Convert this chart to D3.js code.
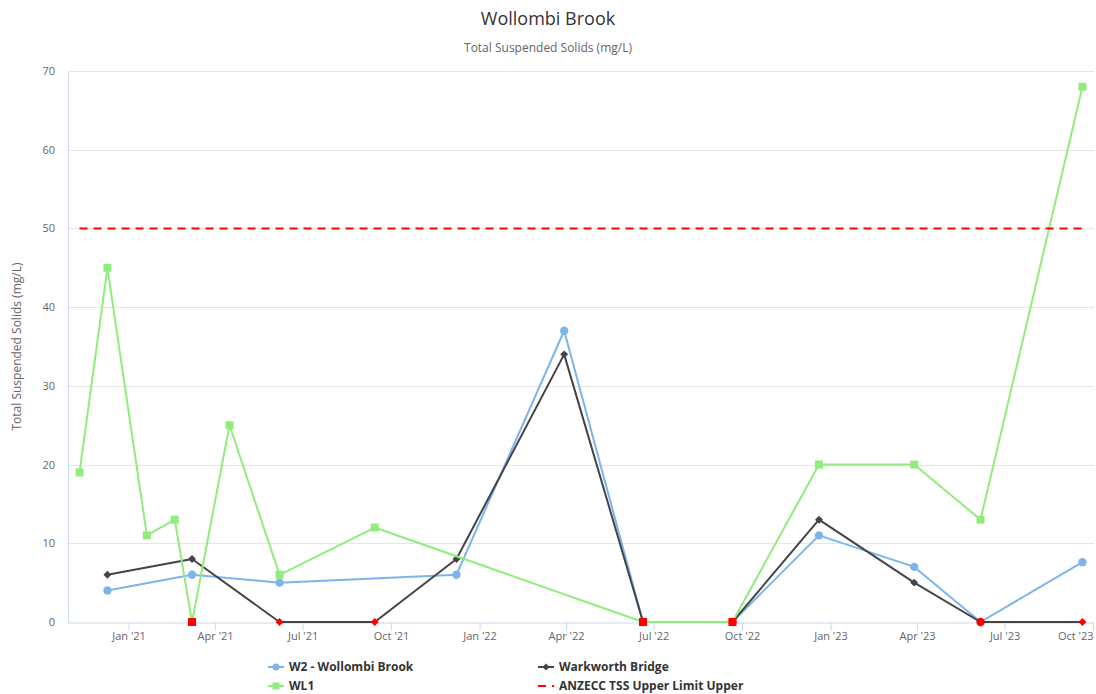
<!DOCTYPE html>
<html>
<head>
<meta charset="utf-8">
<script src="https://cdn.jsdelivr.net/npm/d3@7"></script>
<style>
  html, body { margin: 0; padding: 0; background: #fff; }
  svg { display: block; font-family: "Open Sans", "DejaVu Sans", sans-serif; }
</style>
</head>
<body>
<svg id="chart" width="1096" height="694"></svg>
<script>
// ---------- data ----------
const chartTitle = "Wollombi Brook";
const chartSubtitle = "Total Suspended Solids (mg/L)";
const yAxisTitle = "Total Suspended Solids (mg/L)";

const w2Dates = ["2020-12-10","2021-03-08","2021-06-07","2021-12-08","2022-03-30","2022-06-20","2022-09-21","2022-12-20","2023-03-29","2023-06-06","2023-09-20"];
const w2Values = [4, 6, 5, 6, 37, 0, 0, 11, 7, 0, 7.6];

const warkDates = ["2020-12-10","2021-03-08","2021-06-07","2021-09-14","2021-12-08","2022-03-30","2022-06-20","2022-09-21","2022-12-20","2023-03-29","2023-06-06","2023-09-20"];
const warkValues = [6, 8, 0, 0, 8, 34, 0, 0, 13, 5, 0, 0];

const wl1Dates = ["2020-11-11","2020-12-10","2021-01-20","2021-02-18","2021-03-08","2021-04-16","2021-06-07","2021-09-14","2022-06-20","2022-09-21","2022-12-20","2023-03-29","2023-06-06","2023-09-20"];
const wl1Values = [19, 45, 11, 13, 0, 25, 6, 12, 0, 0, 20, 20, 13, 68];

const anzeccDates = ["2020-11-11","2023-09-20"];
const anzeccValues = [50, 50];

const xTickDates = ["2021-01-01","2021-04-01","2021-07-01","2021-10-01","2022-01-01","2022-04-01","2022-07-01","2022-10-01","2023-01-01","2023-04-01","2023-07-01","2023-10-01"];
const yTicks = [0, 10, 20, 30, 40, 50, 60, 70];
const xDomain = ["2020-10-30","2023-10-02"];
const yDomain = [0, 70];

const seriesNames = ["W2 - Wollombi Brook", "Warkworth Bridge", "WL1", "ANZECC TSS Upper Limit Upper"];

// ---------- layout ----------
const parse = d3.utcParse("%Y-%m-%d");
const plot = { left: 68, right: 1094, top: 71, bottom: 622 };
const svg = d3.select("#chart");

const x = d3.scaleUtc().domain(xDomain.map(parse)).range([plot.left, plot.right]);
const y = d3.scaleLinear().domain(yDomain).range([plot.bottom, plot.top]);

const zip = (ds, vs) => ds.map((d, i) => ({ date: parse(d), value: vs[i] }));

// title
svg.append("text").attr("x", 548).attr("y", 25).attr("text-anchor", "middle")
  .attr("font-size", 18).attr("fill", "#333333").text(chartTitle);
svg.append("text").attr("x", 548).attr("y", 52).attr("text-anchor", "middle")
  .attr("font-size", 12).attr("fill", "#666666").text(chartSubtitle);

// grid
const gGrid = svg.append("g");
gGrid.selectAll("line").data(yTicks.filter(t => t > 0)).join("line")
  .attr("x1", plot.left).attr("x2", plot.right)
  .attr("y1", d => Math.round(y(d)) + 0.5).attr("y2", d => Math.round(y(d)) + 0.5)
  .attr("stroke", "#e6e6e6").attr("stroke-width", 1);

// y axis
const yAxis = d3.axisLeft(y).tickValues(yTicks).tickSize(0).tickPadding(13);
const gy = svg.append("g").attr("transform", `translate(${plot.left},0)`).call(yAxis);
gy.select(".domain").attr("stroke", "#ccd6eb");
gy.selectAll("text").attr("font-size", 11).attr("fill", "#666666")
  .attr("font-family", "'Open Sans', 'DejaVu Sans', sans-serif");

svg.append("text")
  .attr("transform", `translate(21,${(plot.top + plot.bottom) / 2}) rotate(-90)`)
  .attr("text-anchor", "middle").attr("font-size", 12).attr("fill", "#666666")
  .text(yAxisTitle);

// x axis
const fmt = d3.utcFormat("%b '%y");
const xAxis = d3.axisBottom(x).tickValues(xTickDates.map(parse)).tickFormat(fmt)
  .tickSize(8).tickSizeOuter(0).tickPadding(2);
const gx = svg.append("g").attr("transform", `translate(0,${plot.bottom + 0.5})`).call(xAxis);
gx.select(".domain").attr("stroke", "#ccd6eb");
gx.selectAll(".tick line").attr("stroke", "#ccd6eb");
gx.selectAll("text").attr("font-size", 11).attr("fill", "#666666")
  .attr("font-family", "'Open Sans', 'DejaVu Sans', sans-serif");
const lastTick = gx.selectAll(".tick").filter((d, i, n) => i === n.length - 1);
lastTick.select("text").attr("text-anchor", "end");

// series
const line = d3.line().x(d => x(d.date)).y(d => y(d.value));
const zeroColor = "#ff0000";

function drawSeries(data, color, symbol, size) {
  const g = svg.append("g");
  g.append("path").datum(data).attr("d", line)
    .attr("fill", "none").attr("stroke", color).attr("stroke-width", 2)
    .attr("stroke-linejoin", "round").attr("stroke-linecap", "round");
  g.selectAll("path.m").data(data).join("path").attr("class", "m")
    .attr("transform", d => `translate(${x(d.date)},${y(d.value)})`)
    .attr("d", d3.symbol().type(symbol).size(size))
    .attr("fill", d => d.value === 0 ? zeroColor : color);
}

const w2 = zip(w2Dates, w2Values);
const wark = zip(warkDates, warkValues);
const wl1 = zip(wl1Dates, wl1Values);
const anz = zip(anzeccDates, anzeccValues);

drawSeries(w2, "#7cb5ec", d3.symbolCircle, 55);
drawSeries(wark, "#434348", d3.symbolDiamond2, 40);
drawSeries(wl1, "#90ed7d", d3.symbolSquare, 64);

svg.append("path").datum(anz).attr("d", line)
  .attr("fill", "none").attr("stroke", "#ff0000").attr("stroke-width", 2)
  .attr("stroke-dasharray", "8,6");

// legend
const legendItems = [
  { name: seriesNames[0], color: "#7cb5ec", sym: d3.symbolCircle, size: 40, x: 268, y: 667 },
  { name: seriesNames[1], color: "#434348", sym: d3.symbolDiamond2, size: 30, x: 538, y: 667 },
  { name: seriesNames[2], color: "#90ed7d", sym: d3.symbolSquare, size: 50, x: 268, y: 686 },
  { name: seriesNames[3], color: "#ff0000", sym: null, size: 0, x: 538, y: 686 }
];
const gl = svg.append("g");
legendItems.forEach(it => {
  const g = gl.append("g").attr("transform", `translate(${it.x},${it.y})`);
  if (it.sym) {
    g.append("line").attr("x1", 0).attr("x2", 16).attr("y1", 0).attr("y2", 0)
      .attr("stroke", it.color).attr("stroke-width", 2);
    g.append("path").attr("transform", "translate(8,0)")
      .attr("d", d3.symbol().type(it.sym).size(it.size)).attr("fill", it.color);
  } else {
    g.append("line").attr("x1", 0).attr("x2", 16).attr("y1", 0).attr("y2", 0)
      .attr("stroke", it.color).attr("stroke-width", 2).attr("stroke-dasharray", "8,6");
  }
  g.append("text").attr("x", 21).attr("y", 4).attr("font-size", 12)
    .attr("font-weight", "bold").attr("fill", "#333333").text(it.name);
});
</script>
</body>
</html>
